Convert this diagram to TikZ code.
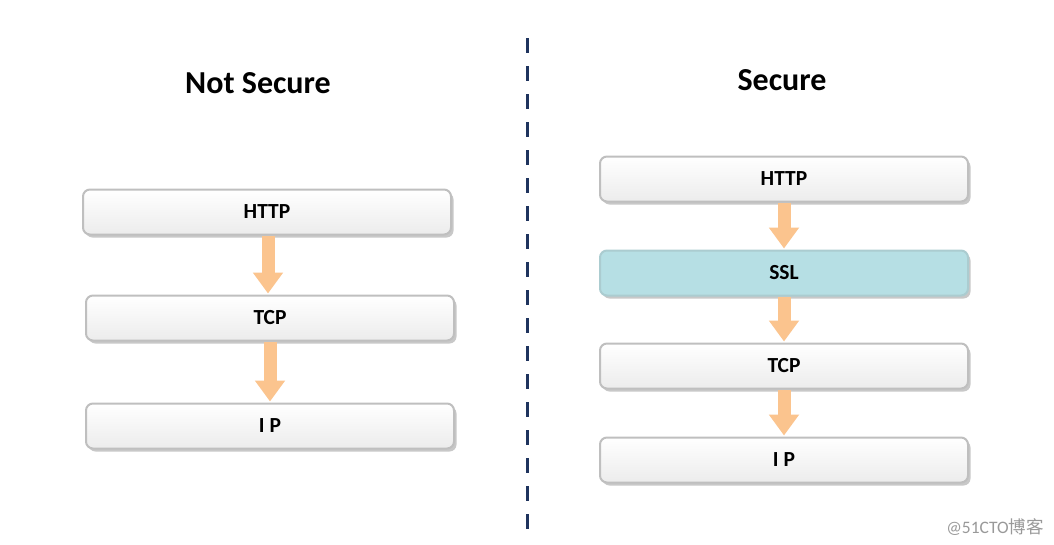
\documentclass[tikz,border=0pt]{standalone}
\usepackage{fontspec}
\setmainfont{Carlito}
\newfontfamily\cjk{Noto Sans CJK SC}
\usetikzlibrary{arrows.meta,shadows}
\definecolor{arrowfill}{RGB}{251,196,142}
\definecolor{sslfill}{RGB}{182,223,228}
\definecolor{divider}{RGB}{31,52,94}
\begin{document}
\begin{tikzpicture}[x=1pt, y=-1pt, font=\bfseries\fontsize{21.5}{24}\selectfont]
\tikzset{
	layer/.style={draw=gray!50, line width=2pt, rounded corners=7pt, minimum width=368pt, minimum height=45pt,
		top color=white, bottom color=gray!15, drop shadow={shadow xshift=2.5pt, shadow yshift=-3pt, fill=gray!85}},
	secure/.style={layer, draw=sslfill!80!gray, top color=sslfill, bottom color=sslfill},
	flow/.style={draw=arrowfill, line width=13pt, -{Triangle[width=29pt, length=21pt]}, shorten >=1pt},
	heading/.style={font=\bfseries\fontsize{32}{36}\selectfont}
}
\useasboundingbox[fill=white] (0,0) rectangle (1054,544);

% Left column
\node[heading] (t1) at (258,83) {Not Secure};
\node[layer] (http1) at (267,212) {HTTP};
\node[layer] (tcp1) at (270,318) {TCP};
\node[layer] (ip1) at (270,426) {I P};

% Right column
\node[heading] (t2) at (782,80) {Secure};
\node[layer] (http2) at (784,179) {HTTP};
\node[secure] (ssl2) at (784,273) {SSL};
\node[layer] (tcp2) at (784,366) {TCP};
\node[layer] (ip2) at (784,460) {I P};

% Arrows
\draw[flow] ([xshift=-2pt]http1.south -| tcp1.south) -- ([xshift=-2pt]tcp1.north);
\draw[flow] (tcp1.south) -- (ip1.north);
\draw[flow] (http2.south) -- (ssl2.north);
\draw[flow] (ssl2.south) -- (tcp2.north);
\draw[flow] (tcp2.south) -- (ip2.north);

% Divider
\coordinate (d1) at (527,38);
\coordinate (d2) at (527,537);
\draw[divider, line width=3pt, dash pattern=on 15pt off 13pt] (d1) -- (d2);

% Watermark
\node[font=\fontsize{17.5}{20}\selectfont, text=gray!80] (wm) at (995,527) {@51CTO{\cjk 博客}};
\end{tikzpicture}
\end{document}
